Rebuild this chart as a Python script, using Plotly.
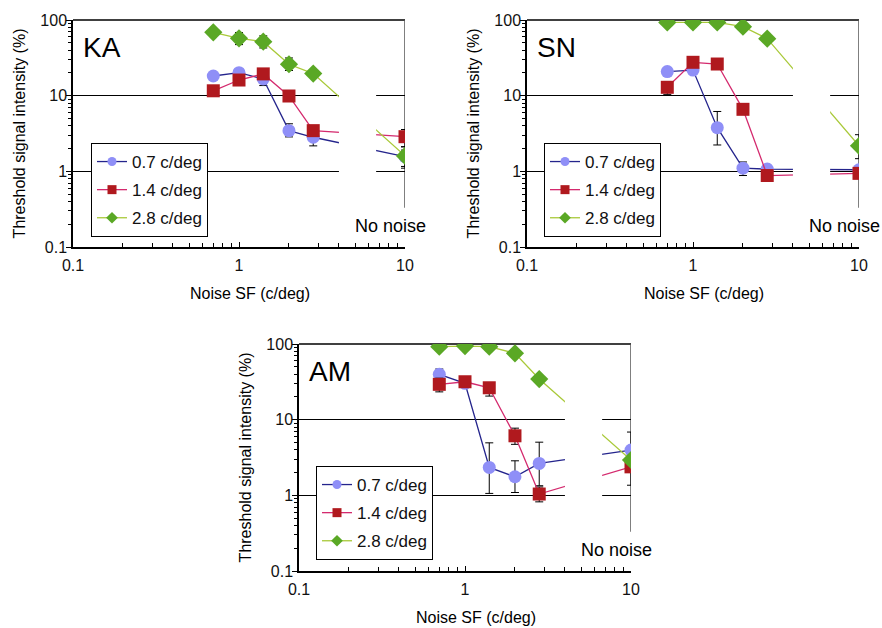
import plotly.graph_objects as go

# ---------------- data ----------------
noise_sf = [0.7, 1.0, 1.4, 2.0, 2.8, 10.0]   # last point = "No noise"
series_names = ["0.7 c/deg", "1.4 c/deg", "2.8 c/deg"]
panels = ["KA", "SN", "AM"]

ka_07 = [18.2, 20.1, 16.6, 3.45, 2.82, 1.56]
ka_07_up = [0, 0, 0, 0.8, 0.2, 0.35]
ka_07_dn = [0, 0, 3.0, 0.6, 0.65, 0.4]
ka_14 = [11.6, 16.1, 19.4, 9.9, 3.45, 2.87]
ka_14_up = [0, 0, 0, 0, 0, 0.7]
ka_14_dn = [0, 0, 0, 0, 0, 0.75]
ka_28 = [68.7, 57.3, 51.7, 26.0, 19.6, 1.6]
ka_28_up = [2.0, 11.0, 10.0, 5.5, 1.5, 0.5]
ka_28_dn = [2.0, 10.0, 9.0, 4.5, 1.5, 0.5]

sn_07 = [20.8, 21.8, 3.78, 1.1, 1.07, 1.05]
sn_07_up = [0, 0, 2.4, 0.23, 0.1, 0]
sn_07_dn = [0, 0, 1.55, 0.22, 0.1, 0]
sn_14 = [12.9, 27.6, 26.2, 6.6, 0.88, 0.94]
sn_14_up = [2.5, 0, 0, 0, 0, 0]
sn_14_dn = [2.5, 0, 0, 0, 0, 0]
sn_28 = [93.0, 93.0, 93.0, 81.6, 56.6, 2.17]
sn_28_up = [0, 0, 0, 0, 0, 0.88]
sn_28_dn = [0, 0, 0, 0, 0, 0.7]

am_07 = [39.7, 30.2, 2.34, 1.76, 2.64, 3.96]
am_07_up = [7.0, 0, 2.6, 1.1, 2.4, 2.9]
am_07_dn = [7.0, 0, 1.28, 0.67, 1.3, 2.6]
am_14 = [29.3, 31.7, 26.4, 6.12, 1.04, 2.38]
am_14_up = [6.0, 0, 4.6, 1.6, 0.25, 0]
am_14_dn = [6.0, 0, 5.9, 1.4, 0.22, 0]
am_28 = [92.2, 94.0, 92.2, 75.3, 34.4, 2.93]
am_28_up = [0, 0, 0, 0, 0, 0]
am_28_dn = [0, 0, 0, 0, 0, 0]

x_ticktext = ["0.1", "1", "10"]
y_ticktext = ["0.1", "1", "10", "100"]

panel_data = {
    "KA": [(ka_07, ka_07_up, ka_07_dn), (ka_14, ka_14_up, ka_14_dn), (ka_28, ka_28_up, ka_28_dn)],
    "SN": [(sn_07, sn_07_up, sn_07_dn), (sn_14, sn_14_up, sn_14_dn), (sn_28, sn_28_up, sn_28_dn)],
    "AM": [(am_07, am_07_up, am_07_dn), (am_14, am_14_up, am_14_dn), (am_28, am_28_up, am_28_dn)],
}

# ---------------- styles ----------------
W, H = 882, 628
FONT = "Liberation Sans, Arial, sans-serif"
marker_colors = ["#8f8ff7", "#b0191e", "#5aa825"]
line_colors = ["#24248c", "#d42a6e", "#a9c939"]
symbols = ["circle", "square", "diamond"]
sizes = [13, 13, 14]

# pixel boxes of the plotting areas (left, right, top, bottom)
boxes = {"KA": (73, 405, 20, 247), "SN": (527, 859, 20, 247), "AM": (299, 631, 344, 571)}
legend_pos = {"KA": (91, 143), "SN": (544, 143), "AM": (316, 466)}

fig = go.Figure()
layout = dict(
    template="none",
    width=W, height=H, margin=dict(l=0, r=0, t=0, b=0, autoexpand=False),
    paper_bgcolor="white", plot_bgcolor="white",
    font=dict(family=FONT, size=15, color="#111"),
    shapes=[], annotations=[],
)

for i, p in enumerate(panels):
    n = "" if i == 0 else str(i + 1)
    xa, ya = "x" + n, "y" + n
    leg = "legend" + n
    l, r, t, b = boxes[p]
    layout["xaxis" + n] = dict(
        type="log", range=[-1, 1], domain=[l / W, r / W], anchor=ya, automargin=False,
        tickmode="linear", tick0=0, dtick=1, labelalias={s: s for s in x_ticktext},
        ticks="inside", ticklen=5,
        tickcolor="black", showline=True, linecolor="black", linewidth=1.5,
        showgrid=False, zeroline=False, tickfont=dict(size=16, color="#111"),
        ticklabelstandoff=3,
        minor=dict(dtick="D1", ticks="inside", ticklen=4, tickcolor="black", showgrid=False),
    )
    layout["yaxis" + n] = dict(
        type="log", range=[-1, 2], domain=[1 - b / H, 1 - t / H], anchor=xa, automargin=False,
        tickmode="linear", tick0=0, dtick=1, labelalias={s: s for s in y_ticktext},
        ticks="outside", ticklen=5,
        tickcolor="black", showline=True, linecolor="black", linewidth=1.5,
        showgrid=True, gridcolor="black", gridwidth=1, zeroline=False,
        tickfont=dict(size=16, color="#111"), ticklabelstandoff=-4,
        minor=dict(dtick="D1", ticks="outside", ticklen=3, tickcolor="black", showgrid=False),
    )
    lx, ly = legend_pos[p]
    layout[leg] = dict(
        x=lx / W, y=1 - ly / H, xanchor="left", yanchor="top",
        bordercolor="black", borderwidth=1, bgcolor="white",
        font=dict(size=17, family=FONT, color="#111"), tracegroupgap=3,
    )
    for k, (vals, up, dn) in enumerate(panel_data[p]):
        fig.add_trace(go.Scatter(
            x=noise_sf, y=vals, xaxis=xa, yaxis=ya, mode="lines+markers",
            line=dict(color=line_colors[k], width=1.3),
            marker=dict(symbol=symbols[k], size=sizes[k], color=marker_colors[k]),
            error_y=dict(type="data", symmetric=False, array=up, arrayminus=dn,
                         color="black", thickness=1, width=4),
            showlegend=False, hoverinfo="skip",
        ))
        fig.add_trace(go.Scatter(
            x=[None], y=[None], xaxis=xa, yaxis=ya, mode="lines+markers",
            name=series_names[k], legend=leg, legendgroup=p + str(k),
            line=dict(color=line_colors[k], width=1.3),
            marker=dict(symbol=symbols[k], size=9, color=marker_colors[k]),
        ))
    # white gap masking connection to "No noise"
    layout["shapes"].append(dict(type="rect", xref=xa, yref=ya + " domain", x0=4, x1=6.7,
                                 y0=0.07, y1=0.96, fillcolor="white", line=dict(width=0),
                                 layer="above"))
    # gray right line at No noise
    layout["shapes"].append(dict(type="line", xref=xa, yref=ya, x0=10, x1=10, y0=0.33, y1=100,
                                 line=dict(color="#555", width=1.5), layer="below"))
    # top border
    layout["shapes"].append(dict(type="line", xref=xa + " domain", yref=ya + " domain",
                                 x0=0, x1=1, y0=1, y1=1, line=dict(color="black", width=1.5),
                                 layer="below"))
    layout["annotations"] += [
        dict(text=p, xref=xa + " domain", yref=ya + " domain", x=0.025, y=0.88,
             xanchor="left", yanchor="middle", showarrow=False, font=dict(size=28, color="black")),
        dict(text="No noise", xref=xa + " domain", yref=ya + " domain", x=0.955, y=0.0925,
             xanchor="center", yanchor="middle", showarrow=False, font=dict(size=18, color="black")),
        dict(text="Threshold signal intensity (%)", xref=xa + " domain", yref=ya + " domain",
             x=-0.16, y=0.5, textangle=-90, xanchor="center", yanchor="middle",
             showarrow=False, font=dict(size=16, color="black")),
        dict(text="Noise SF (c/deg)", xref=xa + " domain", yref=ya + " domain",
             x=0.533, y=-0.207, xanchor="center", yanchor="middle",
             showarrow=False, font=dict(size=16, color="black")),
    ]

fig.update_layout(**layout)
fig.write_html("out.html", config={"displayModeBar": False},
               post_script="document.body.style.margin='0px';document.body.style.overflow='hidden';")
